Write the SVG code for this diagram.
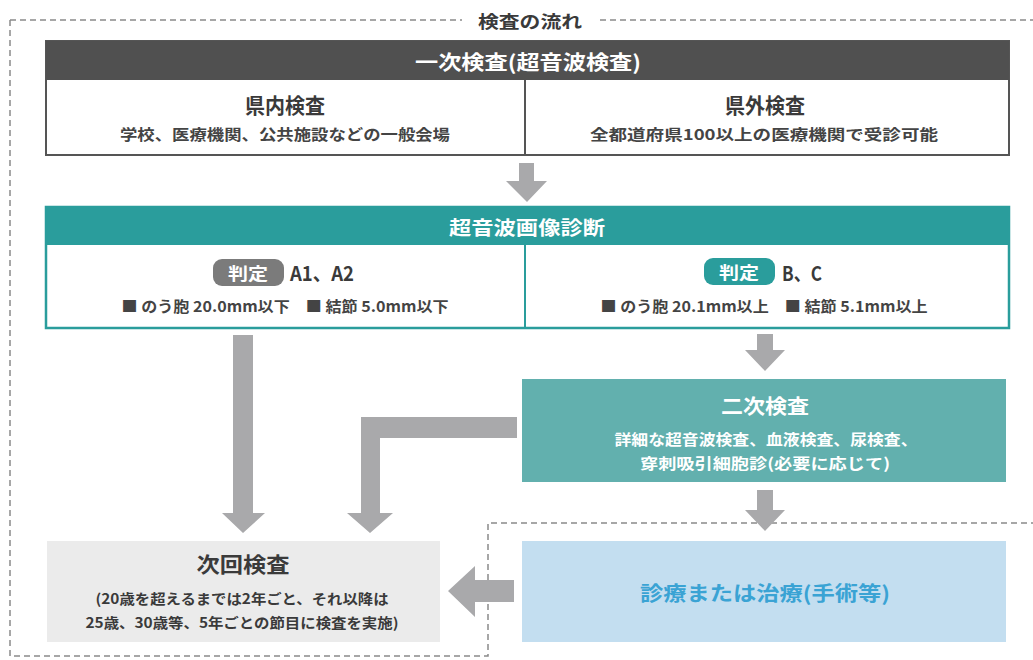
<svg xmlns="http://www.w3.org/2000/svg" width="1033" height="660" viewBox="0 0 1033 660">
<style>
text{font-family:"Noto Sans CJK JP","Noto Sans",sans-serif;font-weight:bold;text-anchor:middle;dominant-baseline:central}
.dash{fill:none;stroke:#8a8a8a;stroke-width:1.5;stroke-dasharray:6 4}
.arr{fill:#a9a9ab}
.wt{fill:#ffffff}
.dk{fill:#3a3a3a}
.sub{fill:#444;font-size:15px}
</style>
<rect width="1033" height="660" fill="#ffffff"/>
<g id="frame">
<path class="dash" d="M10 20 H462 M600 20 H1033 M10 20 V656 H488 V523 H1033"/>
<text x="530" y="20" font-size="17" fill="#3a3a3a" textLength="104" lengthAdjust="spacingAndGlyphs">検査の流れ</text>
</g>
<g id="connectors">
<polygon class="arr" points="519,163 534,163 534,181 547,181 527,202 506,181 519,181"/>
<polygon class="arr" points="233,335 253,335 253,513 265,513 243,533 222,513 233,513"/>
<polygon class="arr" points="757,334 773,334 773,350 785,350 765,371 745,350 757,350"/>
<polygon class="arr" points="517,417 517,438 380,438 380,513 393,513 370,533 347,513 361,513 361,417"/>
<polygon class="arr" points="757,490 773,490 773,510 785,510 765,531 745,510 757,510"/>
<polygon class="arr" points="514,580 514,602 475,602 475,617 448,591 475,566 475,580"/>
</g>
<g id="primary">
<rect x="46" y="41" width="963" height="114" fill="#ffffff" stroke="#555555" stroke-width="2"/>
<rect x="46" y="41" width="963" height="39" fill="#505050"/>
<line x1="525" y1="80" x2="525" y2="155" stroke="#555555" stroke-width="2"/>
<text class="wt" x="528" y="61" font-size="20" textLength="226" lengthAdjust="spacingAndGlyphs">一次検査(超音波検査)</text>
<text class="dk" x="285" y="104" font-size="21" textLength="80" lengthAdjust="spacingAndGlyphs">県内検査</text>
<text class="sub" x="285" y="133" font-size="16" textLength="330" lengthAdjust="spacingAndGlyphs">学校、医療機関、公共施設などの一般会場</text>
<text class="dk" x="765" y="104" font-size="21" textLength="80" lengthAdjust="spacingAndGlyphs">県外検査</text>
<text class="sub" x="764" y="133" font-size="16" textLength="348" lengthAdjust="spacingAndGlyphs">全都道府県100以上の医療機関で受診可能</text>
</g>
<g id="diagnosis">
<rect x="46" y="207" width="963" height="121" fill="#ffffff" stroke="#2a9d9c" stroke-width="2.5"/>
<rect x="46" y="207" width="963" height="38" fill="#2a9d9c"/>
<line x1="525" y1="245" x2="525" y2="328" stroke="#2a9d9c" stroke-width="2"/>
<text class="wt" x="527" y="226" font-size="19" textLength="156" lengthAdjust="spacingAndGlyphs">超音波画像診断</text>
<rect x="213" y="259" width="71" height="27" rx="9" fill="#7b7b7b"/>
<text class="wt" x="248" y="272" font-size="17" textLength="40" lengthAdjust="spacingAndGlyphs">判定</text>
<text class="dk" x="322" y="272" font-size="20" textLength="64" lengthAdjust="spacingAndGlyphs">A1、A2</text>
<text class="sub" x="285" y="305" font-size="14" textLength="327" lengthAdjust="spacingAndGlyphs">■ のう胞 20.0mm以下　■ 結節 5.0mm以下</text>
<rect x="704" y="258" width="71" height="27" rx="9" fill="#2a9d9c"/>
<text class="wt" x="739" y="271" font-size="17" textLength="40" lengthAdjust="spacingAndGlyphs">判定</text>
<text class="dk" x="802" y="272" font-size="20" textLength="40" lengthAdjust="spacingAndGlyphs">B、C</text>
<text class="sub" x="764" y="305" font-size="14" textLength="327" lengthAdjust="spacingAndGlyphs">■ のう胞 20.1mm以上　■ 結節 5.1mm以上</text>
</g>
<g id="secondary">
<rect x="522" y="379" width="484" height="103" fill="#62b0ae"/>
<text class="wt" x="765" y="405" font-size="20" textLength="88" lengthAdjust="spacingAndGlyphs">二次検査</text>
<text class="wt" x="766" y="438" font-size="15" textLength="303" lengthAdjust="spacingAndGlyphs">詳細な超音波検査、血液検査、尿検査、</text>
<text class="wt" x="765" y="462" font-size="15" textLength="250" lengthAdjust="spacingAndGlyphs">穿刺吸引細胞診(必要に応じて)</text>
</g>
<g id="next">
<rect x="47" y="541" width="393" height="101" fill="#ebebeb"/>
<text class="dk" x="243" y="563" font-size="21" textLength="93" lengthAdjust="spacingAndGlyphs">次回検査</text>
<text class="dk" x="242" y="598" font-size="14" textLength="293" lengthAdjust="spacingAndGlyphs">(20歳を超えるまでは2年ごと、それ以降は</text>
<text class="dk" x="242" y="622" font-size="14" textLength="313" lengthAdjust="spacingAndGlyphs">25歳、30歳等、5年ごとの節目に検査を実施)</text>
</g>
<g id="treatment">
<rect x="522" y="541" width="484" height="101" fill="#c3def0"/>
<text x="765" y="592" font-size="20" fill="#3aa3d4" textLength="250" lengthAdjust="spacingAndGlyphs">診療または治療(手術等)</text>
</g>
</svg>
